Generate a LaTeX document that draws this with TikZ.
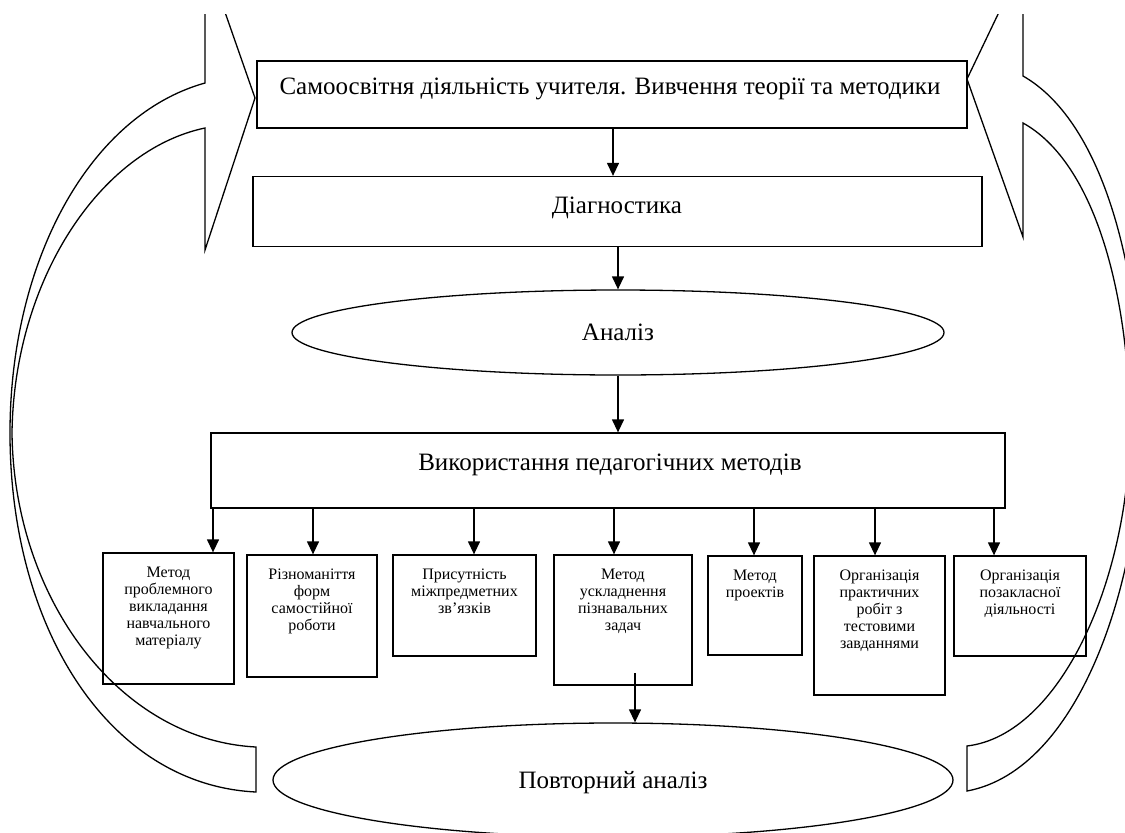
\documentclass[tikz,border=0pt]{standalone}
\usepackage{fontspec}
\setmainfont{Liberation Serif}
\usetikzlibrary{arrows.meta,shapes.geometric}
\begin{document}
\begin{tikzpicture}[x=1pt,y=-1pt,
  ln/.style={line width=1.3pt},
  box/.style={draw,ln,rectangle,inner sep=0pt},
  oval/.style={draw,ln,ellipse,inner sep=0pt},
  big/.style={font=\fontsize{25}{30}\selectfont,inner sep=0pt,anchor=base},
  small/.style={font=\fontsize{16}{17}\selectfont,inner sep=0pt,anchor=north,align=center},
  arr/.style={ln,-{Triangle[length=13pt,width=12pt]}},
  band/.style={ln,line join=miter}]
\useasboundingbox (0,0) rectangle (1125,833);

% curved band arrows
\begin{scope}
\clip (0,14) rectangle (1125,833);
\draw[band] (256,792) .. controls (110,785) and (10,630) .. (10,433)
  .. controls (10,260) and (90,115) .. (205,83) -- (205,-45) -- (255,98)
  -- (205,250) -- (205,128) .. controls (100,150) and (14,280) .. (12,433)
  .. controls (14,600) and (120,740) .. (256,747) -- cycle;
\draw[band] (967,791) .. controls (1080,770) and (1142,580) .. (1142,420)
  .. controls (1140,260) and (1100,120) .. (1023,76) -- (1023,-38) -- (967,79)
  -- (1023,237) -- (1023,123) .. controls (1090,160) and (1128,280) .. (1130,425)
  .. controls (1130,580) and (1060,735) .. (967,746) -- cycle;
\end{scope}

% main chain
\node[box,minimum width=710,minimum height=67] (b1) at (612,94.5) {};
\node[big] (b1t) at (610,94) {Самоосвітня діяльність учителя. Вивчення теорії та методики};
\node[box,minimum width=729,minimum height=70] (b2) at (617.5,211.5) {};
\node[big] (b2t) at (617,213) {Діагностика};
\node[oval,minimum width=652,minimum height=85] (an) at (618,332.5) {};
\node[big] (ant) at (618,340) {Аналіз};
\node[box,minimum width=794,minimum height=75] (uv) at (608,470.5) {};
\node[big] (uvt) at (610,470) {Використання педагогічних методів};

\coordinate (xa) at (613,0);
\draw[arr] (b1.south -| xa) -- (b2.north -| xa);
\draw[arr] (b2.south -| an.north) -- (an.north);
\draw[arr] (an.south) -- (uv.north -| an.south);

% method boxes
\node[box,minimum width=131,minimum height=131] (s1) at (168.5,618.5) {};
\node[box,minimum width=130,minimum height=122] (s2) at (312,616) {};
\node[box,minimum width=143,minimum height=101] (s3) at (464.5,605.5) {};
\node[box,minimum width=138,minimum height=130] (s4) at (623,620) {};
\node[box,minimum width=94,minimum height=99] (s5) at (755,605.5) {};
\node[box,minimum width=131,minimum height=139] (s6) at (879.5,625.5) {};
\node[box,minimum width=132,minimum height=100] (s7) at (1020,606) {};

\node[small] (s1t) at (168.5,567) {Метод\\проблемного\\викладання\\навчального\\матеріалу};
\node[small] (s2t) at (312,569) {Різноманіття\\форм\\самостійної\\роботи};
\node[small] (s3t) at (464.5,569) {Присутність\\міжпредметних\\зв’язків};
\node[small] (s4t) at (623,569) {Метод\\ускладнення\\пізнавальних\\задач};
\node[small] (s5t) at (755,570) {Метод\\проектів};
\node[small] (s6t) at (879.5,570) {Організація\\практичних\\робіт з\\тестовими\\завданнями};
\node[small] (s7t) at (1020,570) {Організація\\позакласної\\діяльності};

\coordinate (x1) at (213,0);
\coordinate (x2) at (313,0);
\coordinate (x3) at (474,0);
\coordinate (x4) at (614,0);
\coordinate (x5) at (754,0);
\coordinate (x6) at (875,0);
\coordinate (x7) at (994,0);
\draw[arr] (uv.south -| x1) -- (s1.north -| x1);
\draw[arr] (uv.south -| x2) -- (s2.north -| x2);
\draw[arr] (uv.south -| x3) -- (s3.north -| x3);
\draw[arr] (uv.south -| x4) -- (s4.north -| x4);
\draw[arr] (uv.south -| x5) -- (s5.north -| x5);
\draw[arr] (uv.south -| x6) -- (s6.north -| x6);
\draw[arr] (uv.south -| x7) -- (s7.north -| x7);

% repeated analysis
\begin{scope}
\clip (0,0) rectangle (1125,833);
\node[oval,minimum width=680,minimum height=114] (pa) at (613,780) {};
\end{scope}
\node[big] (pat) at (613,788) {Повторний аналіз};
\coordinate (s4o) at (635,673);
\draw[arr] (s4o) -- (pa.north -| s4o);
\end{tikzpicture}
\end{document}
